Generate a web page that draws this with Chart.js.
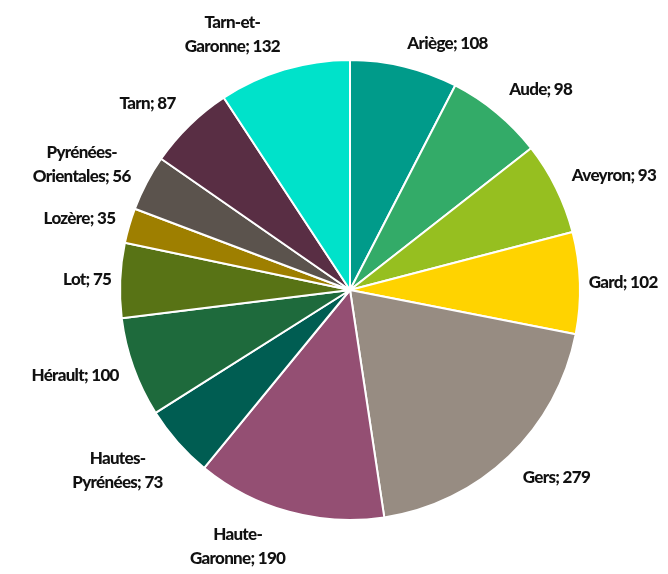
<!DOCTYPE html>
<html>
<head>
<meta charset="utf-8">
<script src="https://cdn.jsdelivr.net/npm/chart.js@4.4.1/dist/chart.umd.min.js"></script>
<style>
  html, body { margin: 0; padding: 0; background: #fff; }
  #wrap { width: 668px; height: 574px; }
</style>
</head>
<body>
<div id="wrap"><canvas id="myChart" width="668" height="574"></canvas></div>
<script>
var departements = ['Ariège', 'Aude', 'Aveyron', 'Gard', 'Gers', 'Haute-Garonne', 'Hautes-Pyrénées',
                    'Hérault', 'Lot', 'Lozère', 'Pyrénées-Orientales', 'Tarn', 'Tarn-et-Garonne'];
var valeurs = [108, 98, 93, 102, 279, 190, 73, 100, 75, 35, 56, 87, 132];
var couleurs = ['#009b8a', '#33ab68', '#96bf20', '#ffd300', '#978c82', '#944f73', '#005d52',
                '#1e6a3c', '#587315', '#9e7f00', '#5b534d', '#592e44', '#00e2ca'];

// labels "Nom; valeur" outside the slices, hyphenated names wrap after the last hyphen
var outsideLabels = {
    id: 'outsideLabels',
    afterDatasetsDraw: function(chart) {
        var ctx = chart.ctx;
        var meta = chart.getDatasetMeta(0);
        ctx.save();
        ctx.font = '900 17px Lato';
        ctx.letterSpacing = '-0.7px';
        ctx.fillStyle = '#111111';
        ctx.textAlign = 'center';
        ctx.textBaseline = 'middle';
        var lh = 24;
        meta.data.forEach(function(arc, i) {
            var name = chart.data.labels[i];
            var v = chart.data.datasets[0].data[i];
            var lines = [name + '; ' + v];
            var k = name.lastIndexOf('-');
            if (k > 0) {
                lines = [name.slice(0, k + 1), name.slice(k + 1) + '; ' + v];
            }
            var w = 0;
            lines.forEach(function(l) { w = Math.max(w, ctx.measureText(l).width); });
            var h = lines.length * lh - 4;
            var mid = (arc.startAngle + arc.endAngle) / 2;
            var ux = Math.cos(mid), uy = Math.sin(mid);
            // diagonal labels sit a bit further out
            var R = arc.outerRadius + 8 + 12 * Math.abs(Math.sin(2 * mid));
            var cx = arc.x + R * ux + (w / 2) * Math.sign(ux);
            var cy = arc.y + R * uy + (h / 2) * uy;
            lines.forEach(function(l, j) {
                ctx.fillText(l, cx, cy + (j - (lines.length - 1) / 2) * lh);
            });
        });
        ctx.restore();
    }
};

var ctx = document.getElementById('myChart').getContext('2d');
var chart = new Chart(ctx, {
    type: 'pie',
    data: {
        labels: departements,
        datasets: [{
            data: valeurs,
            backgroundColor: couleurs,
            borderColor: '#ffffff',
            borderWidth: 2
        }]
    },
    options: {
        responsive: false,
        animation: false,
        layout: {
            padding: { left: 119, right: 87, top: 58, bottom: 52 }
        },
        plugins: {
            legend: { display: false },
            tooltip: { enabled: false }
        }
    },
    plugins: [outsideLabels]
});
</script>
</body>
</html>
